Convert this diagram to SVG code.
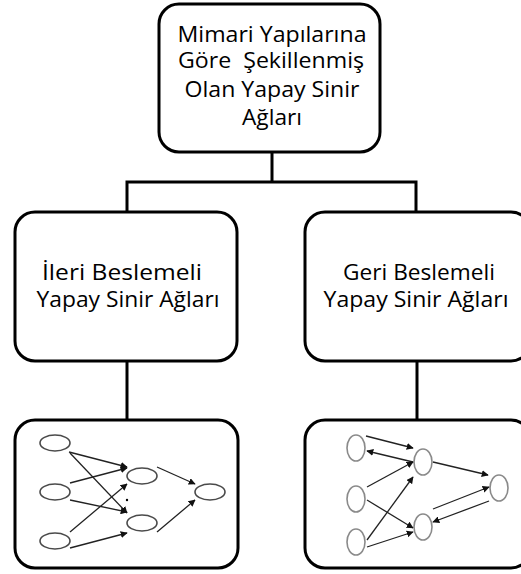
<svg xmlns="http://www.w3.org/2000/svg" width="521" height="574" viewBox="0 0 521 574">
  <style>
    .box { fill: #fff; stroke: #000; stroke-width: 3; }
    .link { fill: none; stroke: #000; stroke-width: 3; }
    .label { font-family: "Open Sans", "Noto Sans", sans-serif; font-size: 22.5px; fill: #000; text-anchor: middle; }
    .nA { fill: #fff; stroke: #4a4a4a; stroke-width: 1.6; }
    .nB { fill: #fff; stroke: #8a8a8a; stroke-width: 1.6; }
    .w { fill: none; stroke: #222; stroke-width: 1.3; marker-end: url(#tip); }
  </style>
  <defs>
    <marker id="tip" viewBox="0 0 10 10" refX="9" refY="5" markerWidth="7" markerHeight="7" markerUnits="userSpaceOnUse" orient="auto">
      <path d="M0,0 L10,5 L0,10 z" fill="#111"/>
    </marker>
  </defs>

  <!-- tree connectors -->
  <g id="connectors">
    <path class="link" d="M272,152 V182"/>
    <path class="link" d="M127,212 V182 H416 V212"/>
    <path class="link" d="M127,361 V420"/>
    <path class="link" d="M417,361 V420"/>
  </g>

  <g id="root">
    <rect class="box" x="159" y="4" width="221" height="148" rx="20"/>
    <text class="label" x="272" y="42" textLength="189" lengthAdjust="spacingAndGlyphs">Mimari Yapılarına</text>
    <text class="label" x="271" y="68" textLength="186" lengthAdjust="spacingAndGlyphs" xml:space="preserve">Göre  Şekillenmiş</text>
    <text class="label" x="272" y="97" textLength="175" lengthAdjust="spacingAndGlyphs">Olan Yapay Sinir</text>
    <text class="label" x="272" y="125" textLength="60" lengthAdjust="spacingAndGlyphs">Ağları</text>
  </g>

  <g id="feedforward">
    <rect class="box" x="15" y="212" width="222" height="149" rx="20"/>
    <text class="label" x="122" y="280" textLength="160" lengthAdjust="spacingAndGlyphs">İleri Beslemeli</text>
    <text class="label" x="128" y="307" textLength="183" lengthAdjust="spacingAndGlyphs">Yapay Sinir Ağları</text>
  </g>

  <g id="feedback">
    <rect class="box" x="305" y="212" width="226" height="149" rx="20"/>
    <text class="label" x="419" y="280" textLength="152" lengthAdjust="spacingAndGlyphs">Geri Beslemeli</text>
    <text class="label" x="416" y="307" textLength="185" lengthAdjust="spacingAndGlyphs">Yapay Sinir Ağları</text>
  </g>

  <!-- feedforward network sketch -->
  <g id="feedforward-net">
    <rect class="box" x="15" y="420" width="223" height="148" rx="20"/>
    <ellipse class="nA" cx="55" cy="443" rx="15" ry="8"/>
    <ellipse class="nA" cx="55" cy="492" rx="15" ry="8"/>
    <ellipse class="nA" cx="55" cy="541" rx="15" ry="8"/>
    <ellipse class="nA" cx="142" cy="476" rx="15" ry="8"/>
    <ellipse class="nA" cx="142" cy="523" rx="15" ry="8"/>
    <ellipse class="nA" cx="210" cy="492" rx="15" ry="8"/>
    <path class="w" d="M69,452 L127,467"/>
    <path class="w" d="M70,453 L127,513"/>
    <path class="w" d="M70,483 L127,468"/>
    <path class="w" d="M70,500 L127,512"/>
    <path class="w" d="M70,532 L127,484"/>
    <path class="w" d="M70,548 L127,533"/>
    <path class="w" d="M157,467 L195,484"/>
    <path class="w" d="M157,532 L195,500"/>
    <circle cx="127" cy="500" r="1.2" fill="#000"/>
  </g>

  <!-- feedback network sketch -->
  <g id="feedback-net">
    <rect class="box" x="305" y="420" width="226" height="148" rx="20"/>
    <ellipse class="nB" cx="356" cy="448" rx="9" ry="13"/>
    <ellipse class="nB" cx="356" cy="499" rx="9" ry="13"/>
    <ellipse class="nB" cx="356" cy="542" rx="9" ry="13"/>
    <ellipse class="nB" cx="423" cy="462" rx="9" ry="13"/>
    <ellipse class="nB" cx="423" cy="527" rx="9" ry="13"/>
    <ellipse class="nB" cx="499" cy="488" rx="9" ry="13"/>
    <path class="w" d="M366,436 L413,448"/>
    <path class="w" d="M413,462 L367,451"/>
    <path class="w" d="M367,487 L413,462"/>
    <path class="w" d="M367,500 L413,528"/>
    <path class="w" d="M367,540 L413,477"/>
    <path class="w" d="M367,547 L413,532"/>
    <path class="w" d="M433,462 L488,475"/>
    <path class="w" d="M433,509 L489,487"/>
    <path class="w" d="M489,501 L433,522"/>
  </g>
</svg>
